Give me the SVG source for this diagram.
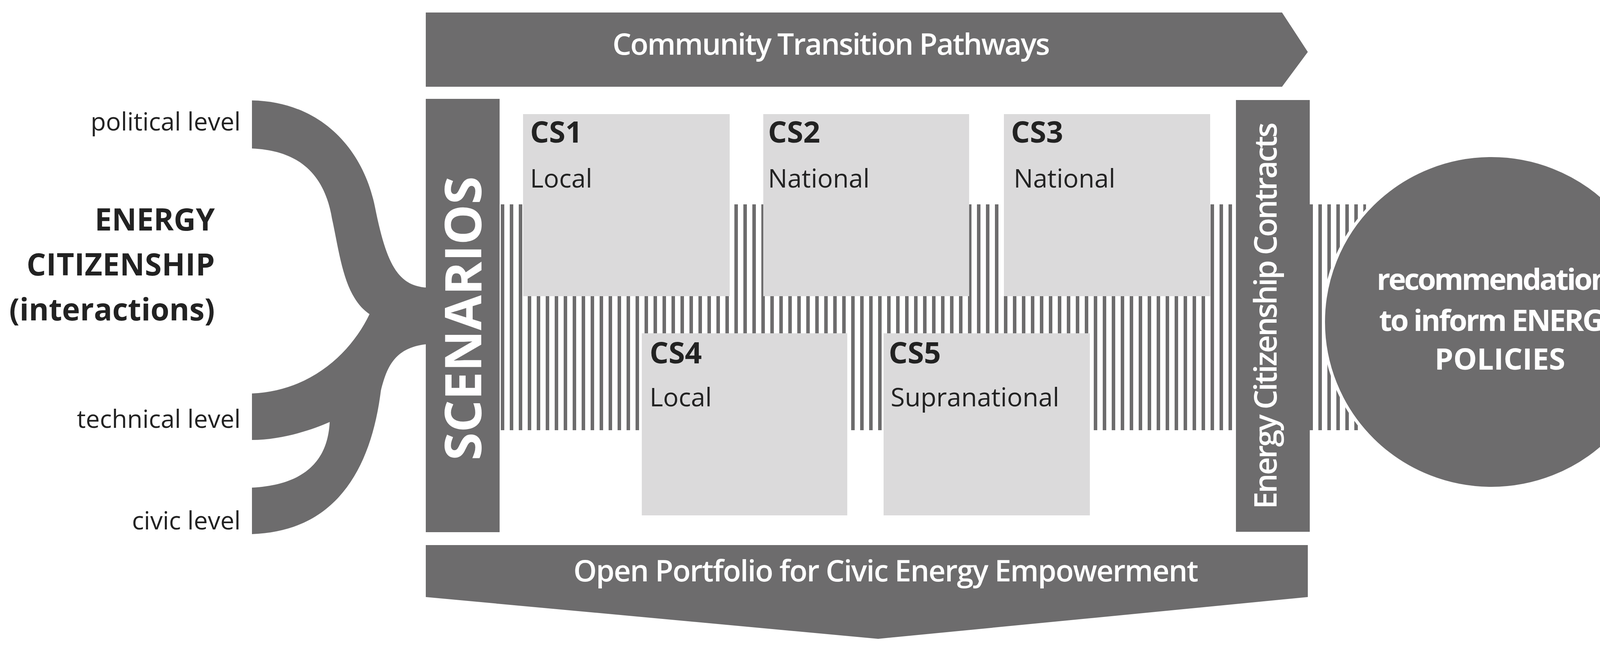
<svg xmlns="http://www.w3.org/2000/svg" width="4273" height="1661" viewBox="0 0 4273 1661">
<style>
.dk{fill:#6d6c6d}
.lt{fill:#dbdadb}
.t{font-family:"Open Sans","Liberation Sans",sans-serif;fill:#222}
.w{font-family:"Open Sans","Liberation Sans",sans-serif;fill:#fff;font-weight:600}
.b{font-weight:700}
</style>
<defs>
<pattern id="st" x="1282" y="0" width="23" height="20" patternUnits="userSpaceOnUse">
<rect x="0" y="0" width="9" height="20" fill="#6d6c6d"/>
</pattern>
</defs>
<rect width="4273" height="1661" fill="#fff"/>
<g id="connectors">
<path class="dk" d="M645,257 C820,260 930,380 960,530 C990,680 1020,730 1091,736 L1091,881 C1010,890 990,940 975,1000 C950,1200 860,1360 645,1367 L645,1248 C800,1240 840,1160 844,1080 C800,1100 720,1126 645,1126 L645,1007 C800,1000 900,900 946,804 C880,760 870,650 850,560 C830,440 760,385 645,380 Z"/>
<rect x="1282" y="523" width="2215" height="578" fill="url(#st)"/>
</g>
<g id="labels">
<text class="t" x="616" y="334" font-size="64" text-anchor="end">political level</text>
<text class="t" x="616" y="1095" font-size="64" text-anchor="end">technical level</text>
<text class="t" x="616" y="1355" font-size="64" text-anchor="end">civic level</text>
<text class="t b" x="550" y="590" font-size="78" text-anchor="end">ENERGY</text>
<text class="t b" x="550" y="705" font-size="78" text-anchor="end" textLength="482">CITIZENSHIP</text>
<text class="t b" x="550" y="820" font-size="78" text-anchor="end">(interactions)</text>
</g>
<g id="top-arrow">
<path class="dk" d="M1090,32 L3282,32 L3348,133 L3282,222 L1090,222 Z"/>
<text class="w" x="2128" y="140" font-size="76" text-anchor="middle" textLength="1120">Community Transition Pathways</text>
</g>
<g id="bottom-arrow">
<path class="dk" d="M1090,1395 L3348,1395 L3348,1528 L2248,1635 L1090,1528 Z"/>
<text class="w" x="2268" y="1488" font-size="76" text-anchor="middle" textLength="1600">Open Portfolio for Civic Energy Empowerment</text>
</g>
<g id="scenarios">
<rect class="dk" x="1090" y="253" width="189" height="1109"/>
<text class="w b" transform="translate(1232,815) rotate(-90)" font-size="130" text-anchor="middle" textLength="727">SCENARIOS</text>
</g>
<g id="ecc">
<rect class="dk" x="3164" y="256" width="189" height="1105"/>
<text class="w" transform="translate(3268,808) rotate(-90)" font-size="80" text-anchor="middle" textLength="990">Energy Citizenship Contracts</text>
</g>
<g id="cs1"><rect class="lt" x="1339" y="292" width="529" height="466"/>
<text class="t b" x="1357" y="365" font-size="76">CS1</text><text class="t" x="1357" y="480" font-size="66">Local</text></g>
<g id="cs2"><rect class="lt" x="1954" y="292" width="527" height="466"/>
<text class="t b" x="1966" y="365" font-size="76">CS2</text><text class="t" x="1966" y="480" font-size="66">National</text></g>
<g id="cs3"><rect class="lt" x="2570" y="292" width="528" height="466"/>
<text class="t b" x="2588" y="365" font-size="76">CS3</text><text class="t" x="2595" y="480" font-size="66">National</text></g>
<g id="cs4"><rect class="lt" x="1643" y="853" width="526" height="466"/>
<text class="t b" x="1663" y="930" font-size="76">CS4</text><text class="t" x="1663" y="1040" font-size="66">Local</text></g>
<g id="cs5"><rect class="lt" x="2262" y="853" width="528" height="466"/>
<text class="t b" x="2275" y="930" font-size="76">CS5</text><text class="t" x="2280" y="1040" font-size="66">Supranational</text></g>
<g id="recommendations">
<ellipse class="dk" cx="3818" cy="824" rx="430" ry="426" stroke="#fff" stroke-width="8"/>
<text class="w b" x="3840" y="742" font-size="76" text-anchor="middle" textLength="631">recommendations</text>
<text class="w b" x="3840" y="847" font-size="76" text-anchor="middle" textLength="619">to inform ENERGY</text>
<text class="w b" x="3840" y="946" font-size="76" text-anchor="middle">POLICIES</text>
</g>
</svg>
